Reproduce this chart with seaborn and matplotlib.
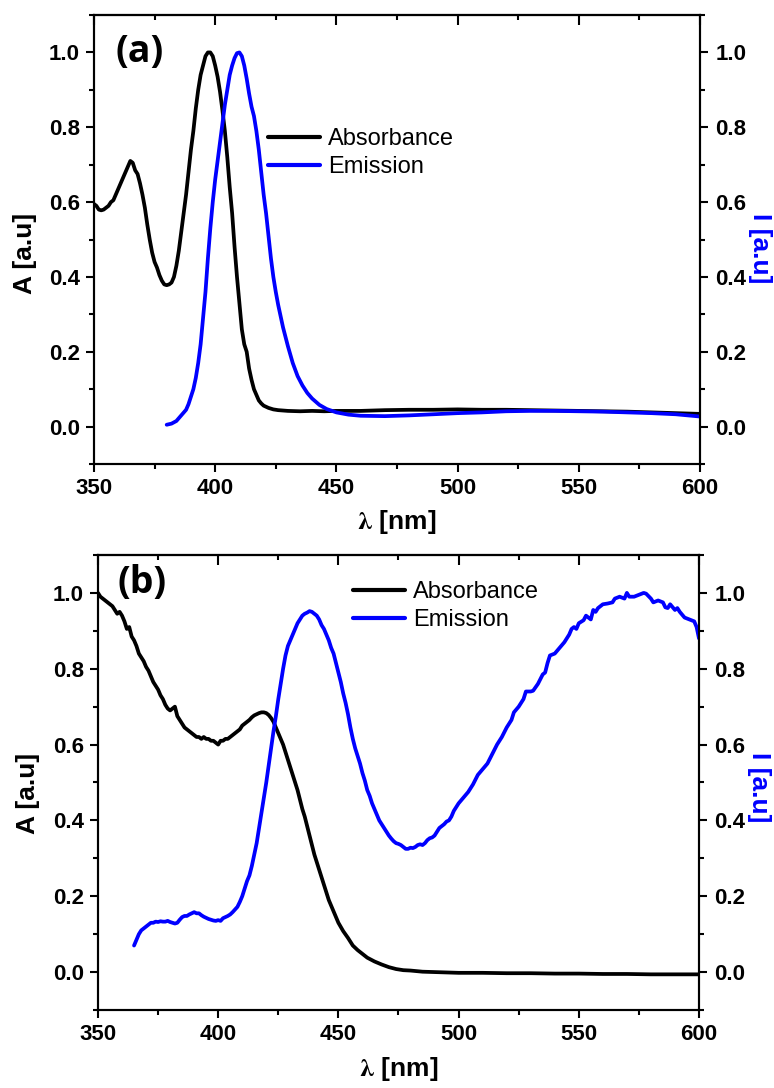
import numpy as np
import pandas as pd
import matplotlib
matplotlib.use("Agg")
import matplotlib.pyplot as plt
import seaborn as sns
from matplotlib.lines import Line2D
from matplotlib.ticker import MultipleLocator

# ---------------- data ----------------
# Panel (a)
abs_a_x = [350, 351, 352, 353, 354, 355, 356, 357, 358, 359, 360, 361, 362, 363, 364, 365, 366, 367, 368, 369,
           370, 371, 372, 373, 374, 375, 376, 377, 378, 379, 380, 381, 382, 383, 384, 385, 386, 387, 388, 389,
           390, 391, 392, 393, 394, 395, 396, 397, 398, 399, 400, 401, 402, 403, 404, 405, 406, 407, 408, 409,
           410, 411, 412, 413, 414, 415, 416, 417, 418, 419, 420, 422, 424, 426, 428, 430, 435, 440, 445, 450,
           460, 470, 480, 490, 500, 510, 520, 530, 540, 550, 560, 570, 580, 590, 600]
abs_a_y = [0.595, 0.59, 0.58, 0.578, 0.58, 0.585, 0.59, 0.60, 0.605, 0.62, 0.635, 0.65, 0.665, 0.68, 0.695, 0.71,
           0.705, 0.685, 0.675, 0.65, 0.62, 0.585, 0.54, 0.50, 0.465, 0.44, 0.425, 0.405, 0.39, 0.38, 0.378, 0.38,
           0.385, 0.40, 0.43, 0.47, 0.52, 0.57, 0.62, 0.68, 0.74, 0.79, 0.85, 0.90, 0.94, 0.965, 0.99, 1.0, 1.0,
           0.99, 0.965, 0.935, 0.895, 0.845, 0.79, 0.72, 0.64, 0.57, 0.48, 0.40, 0.33, 0.26, 0.22, 0.20, 0.155,
           0.125, 0.10, 0.085, 0.07, 0.062, 0.056, 0.05, 0.046, 0.044, 0.043, 0.042, 0.041, 0.042, 0.041, 0.042,
           0.042, 0.044, 0.045, 0.045, 0.046, 0.045, 0.045, 0.044, 0.043, 0.042, 0.041, 0.040, 0.038, 0.036, 0.034]

em_a_x = [380, 382, 384, 386, 388, 389, 390, 391, 392, 393, 394, 395, 396, 397, 398, 399, 400, 401, 402, 403,
          404, 405, 406, 407, 408, 409, 410, 411, 412, 413, 414, 415, 416, 417, 418, 419, 420, 421, 422, 423,
          424, 425, 426, 427, 428, 429, 430, 432, 434, 436, 438, 440, 443, 446, 450, 455, 460, 470, 480, 490,
          500, 510, 520, 530, 540, 550, 560, 570, 580, 590, 600]
em_a_y = [0.005, 0.008, 0.015, 0.03, 0.045, 0.06, 0.08, 0.10, 0.13, 0.17, 0.22, 0.29, 0.36, 0.45, 0.53, 0.60,
          0.66, 0.71, 0.76, 0.81, 0.86, 0.90, 0.94, 0.965, 0.985, 0.998, 1.0, 0.99, 0.965, 0.93, 0.89, 0.855,
          0.83, 0.79, 0.74, 0.68, 0.62, 0.57, 0.51, 0.45, 0.40, 0.36, 0.325, 0.295, 0.265, 0.24, 0.215, 0.17,
          0.135, 0.11, 0.09, 0.075, 0.058, 0.047, 0.038, 0.032, 0.029, 0.028, 0.030, 0.033, 0.036, 0.038, 0.041,
          0.042, 0.042, 0.041, 0.040, 0.038, 0.036, 0.033, 0.027]

# Panel (b)
abs_b_x = [350, 351, 352, 353, 354, 355, 356, 357, 358, 359, 360, 361, 362, 363, 364, 365, 366, 367, 368, 369,
           370, 371, 372, 373, 374, 375, 376, 377, 378, 379, 380, 381, 382, 383, 384, 385, 386, 387, 388, 389,
           390, 391, 392, 393, 394, 395, 396, 397, 398, 399, 400, 401, 402, 403, 404, 405, 406, 407, 408, 409,
           410, 411, 412, 413, 414, 415, 416, 417, 418, 419, 420, 421, 422, 423, 424, 425, 426, 427, 428, 429,
           430, 431, 432, 433, 434, 435, 436, 437, 438, 439, 440, 441, 442, 443, 444, 445, 446, 447, 448, 449,
           450, 452, 454, 456, 458, 460, 462, 465, 468, 471, 474, 477, 480, 485, 490, 500, 510, 520, 530, 540,
           550, 560, 570, 580, 590, 600]
abs_b_y = [1.00, 0.99, 0.985, 0.98, 0.975, 0.97, 0.965, 0.955, 0.945, 0.95, 0.94, 0.925, 0.905, 0.91, 0.885,
           0.875, 0.86, 0.84, 0.83, 0.82, 0.805, 0.795, 0.78, 0.765, 0.755, 0.745, 0.73, 0.72, 0.705, 0.695,
           0.69, 0.695, 0.70, 0.675, 0.665, 0.655, 0.645, 0.64, 0.635, 0.63, 0.625, 0.62, 0.62, 0.615, 0.62,
           0.615, 0.615, 0.61, 0.61, 0.605, 0.60, 0.61, 0.61, 0.615, 0.615, 0.62, 0.625, 0.63, 0.635, 0.64,
           0.65, 0.655, 0.66, 0.665, 0.672, 0.677, 0.68, 0.683, 0.685, 0.685, 0.683, 0.678, 0.67, 0.66, 0.645,
           0.63, 0.615, 0.60, 0.58, 0.56, 0.54, 0.52, 0.50, 0.48, 0.455, 0.43, 0.41, 0.385, 0.36, 0.335, 0.31,
           0.29, 0.27, 0.25, 0.23, 0.21, 0.19, 0.175, 0.16, 0.145, 0.13, 0.108, 0.09, 0.07, 0.058, 0.048, 0.038,
           0.028, 0.02, 0.013, 0.008, 0.005, 0.004, 0.001, 0.0, -0.002, -0.002, -0.003, -0.003, -0.004, -0.004,
           -0.005, -0.005, -0.006, -0.006, -0.006]

em_b_x = [365, 366, 367, 368, 369, 370, 371, 372, 373, 374, 375, 376, 377, 378, 379, 380, 381, 382, 383, 384,
          385, 386, 387, 388, 389, 390, 391, 392, 393, 394, 395, 396, 397, 398, 399, 400, 401, 402, 403, 404,
          405, 406, 407, 408, 409, 410, 411, 412, 413, 414, 415, 416, 417, 418, 419, 420, 421, 422, 423, 424,
          425, 426, 427, 428, 429, 430, 431, 432, 433, 434, 435, 436, 437, 438, 439, 440, 441, 442, 443, 444,
          445, 446, 447, 448, 449, 450, 451, 452, 453, 454, 455, 456, 457, 458, 459, 460, 461, 462, 463, 464,
          465, 466, 467, 468, 469, 470, 471, 472, 473, 474, 475, 476, 477, 478, 479, 480, 481, 482, 483, 484,
          485, 486, 487, 488, 489, 490, 491, 492, 493, 494, 495, 496, 497, 498, 499, 500, 502, 504, 506, 508,
          510, 512, 514, 516, 518, 520, 522, 523, 525, 527, 528, 530, 531, 533, 535, 536, 537, 538, 540, 542,
          544, 546, 547, 548, 549, 550, 552, 553, 555, 556, 557, 558, 560, 562, 564, 565, 567, 569, 570, 571,
          573, 575, 577, 578, 580, 581, 583, 585, 586, 587, 588, 590, 591, 592, 594, 596, 598, 599, 600]
em_b_y = [0.07, 0.085, 0.10, 0.11, 0.115, 0.12, 0.125, 0.13, 0.13, 0.133, 0.132, 0.134, 0.133, 0.133, 0.135,
          0.132, 0.13, 0.128, 0.13, 0.138, 0.145, 0.148, 0.148, 0.152, 0.155, 0.158, 0.155, 0.155, 0.15, 0.146,
          0.143, 0.14, 0.138, 0.136, 0.135, 0.137, 0.135, 0.142, 0.145, 0.148, 0.152, 0.158, 0.165, 0.172, 0.185,
          0.20, 0.22, 0.24, 0.255, 0.28, 0.31, 0.34, 0.38, 0.42, 0.46, 0.50, 0.545, 0.59, 0.635, 0.675, 0.72,
          0.76, 0.80, 0.835, 0.86, 0.875, 0.89, 0.905, 0.92, 0.93, 0.94, 0.945, 0.948, 0.952, 0.95, 0.945, 0.94,
          0.93, 0.915, 0.905, 0.89, 0.875, 0.855, 0.84, 0.815, 0.79, 0.765, 0.735, 0.71, 0.68, 0.645, 0.615,
          0.59, 0.57, 0.55, 0.525, 0.505, 0.48, 0.465, 0.445, 0.43, 0.415, 0.40, 0.39, 0.38, 0.37, 0.36, 0.352,
          0.345, 0.34, 0.338, 0.335, 0.33, 0.325, 0.325, 0.328, 0.327, 0.33, 0.335, 0.337, 0.335, 0.34, 0.348,
          0.353, 0.355, 0.36, 0.37, 0.38, 0.385, 0.39, 0.397, 0.40, 0.41, 0.425, 0.435, 0.445, 0.46, 0.475,
          0.495, 0.52, 0.535, 0.55, 0.575, 0.60, 0.62, 0.645, 0.665, 0.685, 0.70, 0.72, 0.74, 0.74, 0.742, 0.76,
          0.785, 0.79, 0.815, 0.835, 0.84, 0.855, 0.87, 0.89, 0.905, 0.91, 0.905, 0.92, 0.928, 0.94, 0.93, 0.955,
          0.95, 0.96, 0.97, 0.972, 0.975, 0.985, 0.99, 0.985, 1.0, 0.99, 0.99, 0.995, 1.0, 0.998, 0.985, 0.975,
          0.98, 0.975, 0.962, 0.96, 0.97, 0.955, 0.96, 0.95, 0.935, 0.93, 0.925, 0.91, 0.88]

x_ticks = [350, 400, 450, 500, 550, 600]
y_ticks = [0.0, 0.2, 0.4, 0.6, 0.8, 1.0]
series_labels = ["Absorbance", "Emission"]
panel_labels = ["(a)", "(b)"]

# ---------------- style ----------------
sns.set_style("ticks")
plt.rcParams["font.family"] = ["Liberation Sans", "DejaVu Sans"]
plt.rcParams["font.weight"] = "bold"
plt.rcParams["mathtext.fontset"] = "stix"
plt.rcParams["axes.linewidth"] = 1.5
for key in ["text.color", "axes.labelcolor", "xtick.color", "ytick.color", "axes.edgecolor"]:
    plt.rcParams[key] = "black"

BLUE = "#0000FF"
fig = plt.figure(figsize=(7.74, 10.88), dpi=100)

panels = [
    dict(rect=[0.1214, 0.5735, 0.783, 0.4127], ab=(abs_a_x, abs_a_y), em=(em_a_x, em_a_y),
         leg=(0.287, 0.748), lab=(0.035, 0.918), ylab=(-0.094, 0.47), rlab=(1.099, 0.48), xlab=(0.5, -0.098)),
    dict(rect=[0.1266, 0.0717, 0.7765, 0.4182], ab=(abs_b_x, abs_b_y), em=(em_b_x, em_b_y),
         leg=(0.424, 0.943), lab=(0.032, 0.938), ylab=(-0.097, 0.477), rlab=(1.10, 0.49), xlab=(0.5, -0.098)),
]

for i, p in enumerate(panels):
    ax = fig.add_axes(p["rect"])
    ax2 = ax.twinx()
    df_ab = pd.DataFrame({"x": p["ab"][0], "y": p["ab"][1]})
    df_em = pd.DataFrame({"x": p["em"][0], "y": p["em"][1]})
    sns.lineplot(data=df_ab, x="x", y="y", ax=ax, color="black", linewidth=2.7, estimator=None, sort=False)
    sns.lineplot(data=df_em, x="x", y="y", ax=ax2, color=BLUE, linewidth=2.7, estimator=None, sort=False)

    for a in (ax, ax2):
        a.set_xlim(350, 600)
        a.set_ylim(-0.1, 1.1)
        a.set_yticks(y_ticks)
        a.yaxis.set_minor_locator(MultipleLocator(0.1))
        for s in a.spines.values():
            s.set_linewidth(1.5)
            s.set_visible(True)
            s.set_color("black")
    ax.set_xticks(x_ticks)
    ax.xaxis.set_minor_locator(MultipleLocator(25))
    ax.set_xticklabels([str(t) for t in x_ticks])
    ax.set_yticklabels([f"{t:.1f}" for t in y_ticks])
    ax2.set_yticklabels([f"{t:.1f}" for t in y_ticks])

    ax.tick_params(axis="both", which="major", direction="out", length=6, width=1.5, labelsize=16, pad=4,
                   colors="black")
    ax.tick_params(axis="both", which="minor", direction="out", length=3.5, width=1.5, colors="black")
    ax.tick_params(axis="y", which="both", left=True, right=False)
    ax2.tick_params(axis="y", which="major", direction="out", length=6, width=1.5, labelsize=16, pad=5,
                    left=False, right=True, colors="black")
    ax2.tick_params(axis="y", which="minor", direction="out", length=3.5, width=1.5, left=False, right=True,
                    colors="black")
    for lbl in ax.get_xticklabels() + ax.get_yticklabels() + ax2.get_yticklabels():
        lbl.set_fontweight("bold")

    # top ticks pointing inward
    top = ax.secondary_xaxis("top")
    top.set_xticks(x_ticks)
    top.xaxis.set_minor_locator(MultipleLocator(25))
    top.tick_params(which="major", direction="in", length=7, width=1.5, labeltop=False, colors="black")
    top.tick_params(which="minor", direction="in", length=3.5, width=1.5, colors="black")
    top.spines["top"].set_linewidth(1.5)
    top.spines["top"].set_color("black")

    ax.set_xlabel(r"$\mathbf{\lambda}$ [nm]", fontsize=19, fontweight="bold")
    ax.xaxis.set_label_coords(*p["xlab"])
    ax.set_ylabel("A [a.u]", fontsize=19, fontweight="bold")
    ax.yaxis.set_label_coords(*p["ylab"])
    ax2.set_ylabel("I [a.u]", fontsize=19, fontweight="bold", color=BLUE, rotation=270, va="center")
    ax2.yaxis.set_label_coords(*p["rlab"])

    handles = [Line2D([], [], color="black", linewidth=3), Line2D([], [], color=BLUE, linewidth=3)]
    ax2.legend(handles, series_labels, loc="upper left", bbox_to_anchor=p["leg"], frameon=False,
               prop={"family": "Liberation Sans", "weight": "normal", "size": 17},
               handlelength=2.2, handletextpad=0.35, labelspacing=0.25, borderpad=0, borderaxespad=0)

    ax.text(p["lab"][0], p["lab"][1], panel_labels[i], transform=ax.transAxes, fontsize=27,
            fontweight="bold", family=["Open Sans", "DejaVu Sans"], va="center", ha="left", color="black")

fig.savefig("out.png", dpi=100)
